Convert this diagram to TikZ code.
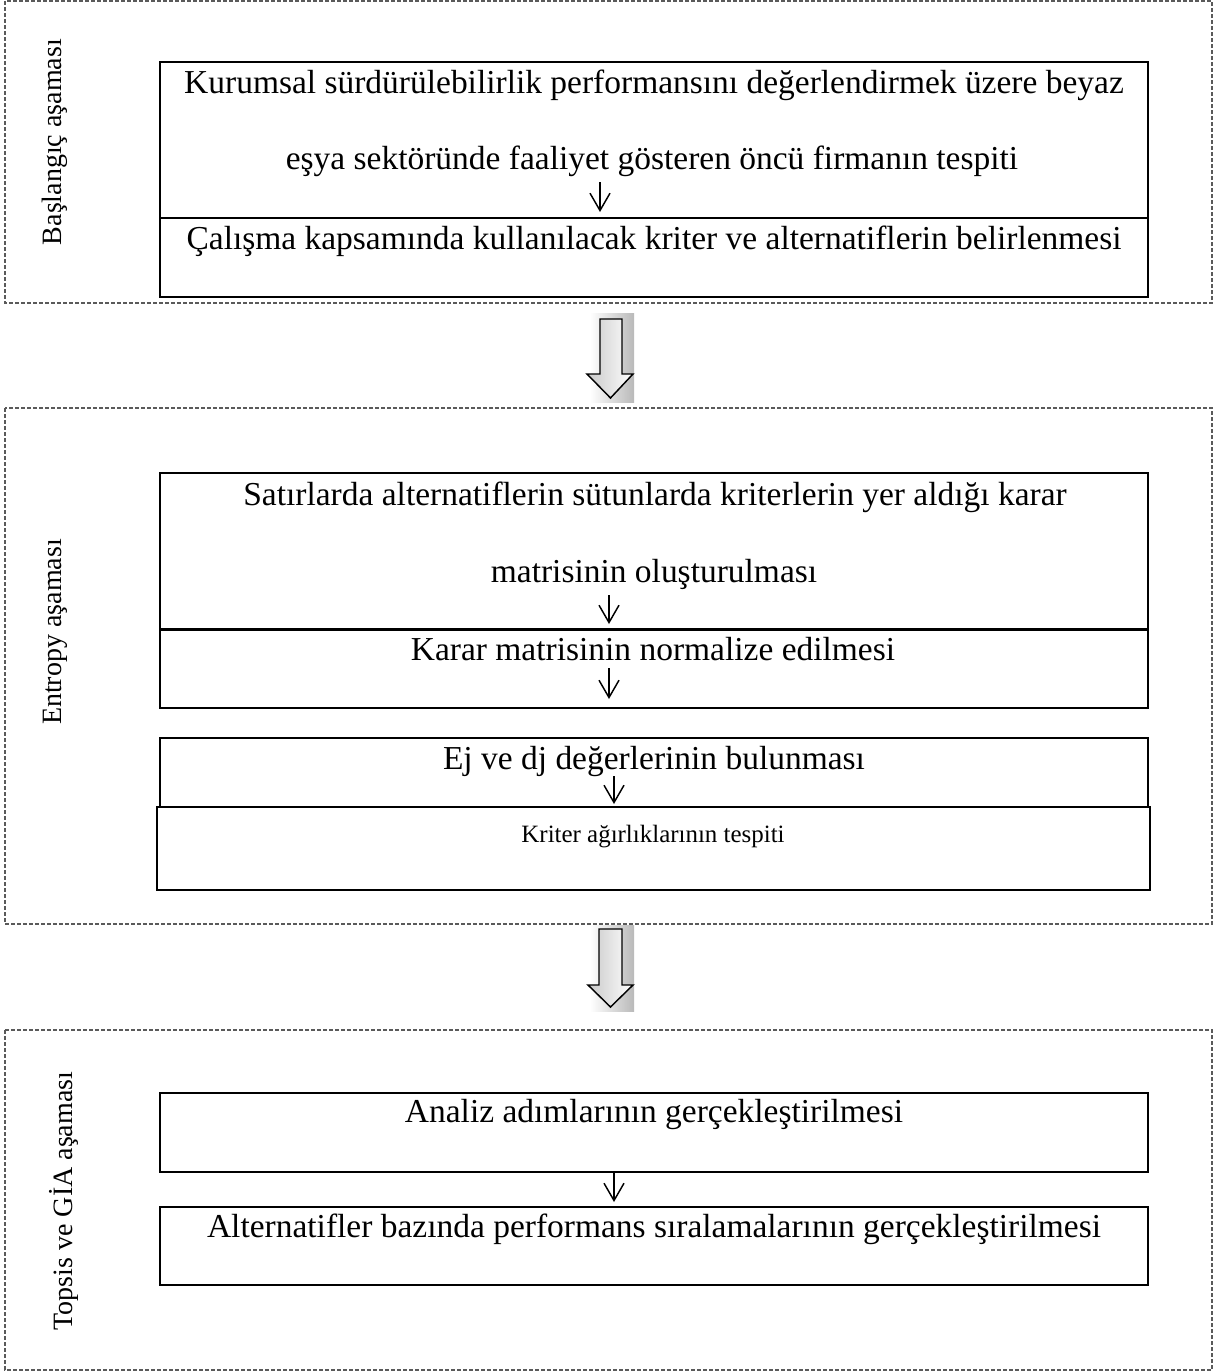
\documentclass[tikz,border=0pt]{standalone}
\usepackage{fontspec}
\setmainfont{Liberation Serif}
\usetikzlibrary{arrows.meta}

\tikzset{every picture/.style={line width=0.75pt}}
\tikzset{
  phaseframe/.style={draw={rgb,255:red,90;green,90;blue,90},line width=0.9pt,dash pattern=on 3pt off 1.5pt},
  stepbox/.style={draw=black,line width=1.8pt},
  steptext/.style={anchor=base,inner sep=0pt,font=\fontsize{25.1}{30}\selectfont},
  stepsmall/.style={anchor=base,inner sep=0pt,font=\fontsize{18.7}{22}\selectfont},
  phaselabel/.style={rotate=90,inner sep=0pt,font=\fontsize{21}{25}\selectfont},
  stepflow/.style={line width=1.1pt,-{Straight Barb[length=13pt,width=15pt,line width=1.1pt]}},
  arrowback/.style={left color=white,right color={rgb,255:red,185;green,185;blue,185},draw=none},
  downarrow/.style={draw=black,line width=1.1pt,line join=miter,left color={rgb,255:red,200;green,200;blue,200},right color=white}
}

\begin{document}
\begin{tikzpicture}[x=0.75pt,y=0.75pt,yscale=-1,xscale=1]
		\useasboundingbox (0,0) rectangle (1217,1372);

		%Phase frames
		\draw [phaseframe] (5,1) rectangle (1212,303) ;
		\draw [phaseframe] (5,408) rectangle (1212,924) ;
		\draw [phaseframe] (5,1030) rectangle (1212,1370) ;

		% Text Node
		\draw (55,142) node [phaselabel] (lbasla) {Başlangıç aşaması};
		% Text Node
		\draw (55,632) node [phaselabel] (lentropy) {Entropy aşaması};
		% Text Node
		\draw (64,1201) node [phaselabel] (ltopsis) {Topsis ve GİA aşaması};

		%Shape: Rectangle
		\draw [stepbox] (160,62) rectangle (1148,218) ;
		%Shape: Rectangle
		\draw [stepbox] (160,218) rectangle (1148,297) ;
		%Shape: Rectangle
		\draw [stepbox] (160,473) rectangle (1148,630) ;
		%Shape: Rectangle
		\draw [stepbox] (160,629) rectangle (1148,708) ;
		%Shape: Rectangle
		\draw [stepbox] (160,738) rectangle (1148,807) ;
		%Shape: Rectangle
		\draw [stepbox] (157,807) rectangle (1150,890) ;
		%Shape: Rectangle
		\draw [stepbox] (160,1093) rectangle (1148,1172) ;
		%Shape: Rectangle
		\draw [stepbox] (160,1207) rectangle (1148,1285) ;

		% Text Node
		\draw (654,93) node [steptext] (firmaa) {Kurumsal sürdürülebilirlik performansını değerlendirmek üzere beyaz};
		% Text Node
		\draw (652,169) node [steptext] (firmab) {eşya sektöründe faaliyet gösteren öncü firmanın tespiti};
		% Text Node
		\draw (654,249) node [steptext] (kriter) {Çalışma kapsamında kullanılacak kriter ve alternatiflerin belirlenmesi};
		% Text Node
		\draw (655,505) node [steptext] (matrisa) {Satırlarda alternatiflerin sütunlarda kriterlerin yer aldığı karar};
		% Text Node
		\draw (654,582) node [steptext] (matrisb) {matrisinin oluşturulması};
		% Text Node
		\draw (653,660) node [steptext] (normal) {Karar matrisinin normalize edilmesi};
		% Text Node
		\draw (654,769) node [steptext] (ejdj) {Ej ve dj değerlerinin bulunması};
		% Text Node
		\draw (653,842) node [stepsmall] (agirlik) {Kriter ağırlıklarının tespiti};
		% Text Node
		\draw (654,1122) node [steptext] (analiz) {Analiz adımlarının gerçekleştirilmesi};
		% Text Node
		\draw (654,1237) node [steptext] (sirala) {Alternatifler bazında performans sıralamalarının gerçekleştirilmesi};

		%Small arrows
		\coordinate (f1s) at (600,182) ;
		\coordinate (f1e) at (600,212) ;
		\coordinate (f2s) at (609,595) ;
		\coordinate (f2e) at (609,624) ;
		\coordinate (f3s) at (609,668) ;
		\coordinate (f3e) at (609,699) ;
		\coordinate (f4s) at (614,776) ;
		\coordinate (f4e) at (614,804) ;
		\coordinate (f5s) at (614,1173) ;
		\coordinate (f5e) at (614,1202) ;
		\draw [stepflow] (f1s) -- (f1e) ;
		\draw [stepflow] (f2s) -- (f2e) ;
		\draw [stepflow] (f3s) -- (f3e) ;
		\draw [stepflow] (f4s) -- (f4e) ;
		\draw [stepflow] (f5s) -- (f5e) ;

		%Shape: Down Arrow
		\fill [arrowback] (590,313) rectangle (634,402) ;
		\draw [downarrow] (600,319) -- (622,319) -- (622,374) -- (633,374) -- (610.5,398) -- (587,374) -- (600,374) -- cycle ;
		%Shape: Down Arrow
		\fill [arrowback] (590,925) rectangle (634,1011) ;
		\draw [downarrow] (599,929) -- (622,929) -- (622,985) -- (633,985) -- (610.5,1007) -- (588,985) -- (599,985) -- cycle ;

\end{tikzpicture}
\end{document}
